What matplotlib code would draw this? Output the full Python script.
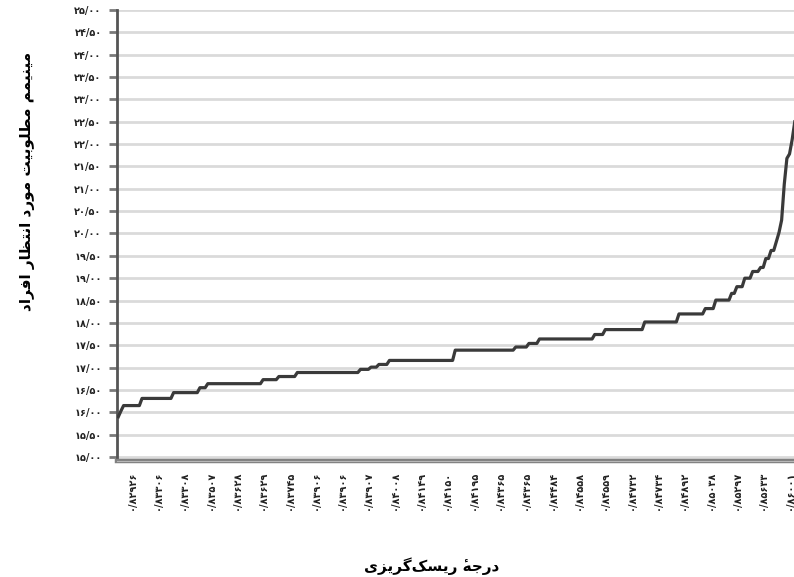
import numpy as np
import matplotlib
matplotlib.use('Agg')
import matplotlib.pyplot as plt

levels = [15.90, 16.03, 16.15, 16.31, 16.44, 16.55, 16.64, 16.73, 16.80, 16.89,
          16.96, 17.01, 17.07, 17.16, 17.39, 17.46, 17.54, 17.64, 17.74, 17.85,
          18.02, 18.20, 18.32, 18.51, 18.66, 18.81, 19.00, 19.15, 19.24, 19.44,
          19.62, 19.82, 20.02, 20.30, 21.10, 21.68, 21.78, 22.10, 22.50]
counts = [1, 1, 7, 12, 10, 3, 21, 6, 7, 24,
          4, 3, 4, 25, 23, 5, 4, 21, 4, 15,
          13, 10, 4, 6, 2, 3, 3, 3, 2, 2,
          2, 1, 1, 1, 1, 1, 1, 1, 1]

# category labels shown on the x axis (every 10th observation, starting at 5)
x_labels = ['۰/۸۲۹۲۶', '۰/۸۳۳۰۶', '۰/۸۳۳۰۸', '۰/۸۳۵۰۷', '۰/۸۳۶۲۸', '۰/۸۳۶۲۹',
            '۰/۸۳۷۴۵', '۰/۸۳۹۰۶', '۰/۸۳۹۰۶', '۰/۸۳۹۰۷', '۰/۸۴۰۰۸', '۰/۸۴۱۴۹',
            '۰/۸۴۱۵۰', '۰/۸۴۱۹۵', '۰/۸۴۳۶۵', '۰/۸۴۳۶۵', '۰/۸۴۴۸۴', '۰/۸۴۵۵۸',
            '۰/۸۴۵۵۹', '۰/۸۴۷۳۲', '۰/۸۴۷۳۴', '۰/۸۴۸۹۲', '۰/۸۵۰۳۸', '۰/۸۵۲۹۷',
            '۰/۸۵۶۳۳', '۰/۸۶۰۰۱']
x_label_pos = list(range(5, 260, 10))
y_ticks = np.arange(15, 25.01, 0.5)

x_title = 'درجهٔ ریسک\u200cگریزی'
y_title = 'مینیمم مطلوبیت مورد انتظار افراد'

# matplotlib does no arabic shaping, so pick the contextual forms by hand
FORMS = {
    'ا': ('\uFE8D', '\uFE8E', None, None),
    'ب': ('\uFE8F', '\uFE90', '\uFE91', '\uFE92'),
    'ت': ('\uFE95', '\uFE96', '\uFE97', '\uFE98'),
    'ج': ('\uFE9D', '\uFE9E', '\uFE9F', '\uFEA0'),
    'د': ('\uFEA9', '\uFEAA', None, None),
    'ر': ('\uFEAD', '\uFEAE', None, None),
    'ز': ('\uFEAF', '\uFEB0', None, None),
    'س': ('\uFEB1', '\uFEB2', '\uFEB3', '\uFEB4'),
    'ط': ('\uFEC1', '\uFEC2', '\uFEC3', '\uFEC4'),
    'ظ': ('\uFEC5', '\uFEC6', '\uFEC7', '\uFEC8'),
    'ف': ('\uFED1', '\uFED2', '\uFED3', '\uFED4'),
    'ل': ('\uFEDD', '\uFEDE', '\uFEDF', '\uFEE0'),
    'م': ('\uFEE1', '\uFEE2', '\uFEE3', '\uFEE4'),
    'ن': ('\uFEE5', '\uFEE6', '\uFEE7', '\uFEE8'),
    'ه': ('\uFEE9', '\uFEEA', '\uFEEB', '\uFEEC'),
    'و': ('\uFEED', '\uFEEE', None, None),
    'ی': ('\uFBFC', '\uFBFD', '\uFBFE', '\uFBFF'),
    'ک': ('\uFB8E', '\uFB8F', '\uFB90', '\uFB91'),
    'گ': ('\uFB92', '\uFB93', '\uFB94', '\uFB95'),
}
MARKS = {'\u0654'}


def shape(text):
    chars = list(text)
    n = len(chars)
    clusters = []
    for i, c in enumerate(chars):
        if c in MARKS:
            # mark glyph sits to the right of the pen, so draw it before its base
            if clusters:
                clusters[-1] = c + clusters[-1]
            continue
        if c == '\u200c':
            continue
        if c not in FORMS:
            clusters.append(c)
            continue
        j = i - 1
        while j >= 0 and chars[j] in MARKS:
            j -= 1
        k = i + 1
        while k < n and chars[k] in MARKS:
            k += 1
        prev_joins = j >= 0 and chars[j] in FORMS and FORMS[chars[j]][2] is not None
        next_joins = k < n and chars[k] in FORMS and FORMS[c][2] is not None
        iso, fin, ini, med = FORMS[c]
        if prev_joins and next_joins:
            g = med
        elif prev_joins:
            g = fin
        elif next_joins:
            g = ini
        else:
            g = iso
        clusters.append(g)
    return ''.join(reversed(clusters))


fa_digits = str.maketrans('0123456789.', '۰۱۲۳۴۵۶۷۸۹/')
y_labels = [f'{v:.2f}'.translate(fa_digits) for v in y_ticks]

values = np.repeat(levels, counts)
idx = np.arange(len(values))

plt.rcParams['font.family'] = ['DejaVu Sans']
fig = plt.figure(figsize=(7.94, 5.77), dpi=100)
# plot area runs past the right edge of the picture, like the original crop
ax = fig.add_axes([117 / 794, 116 / 577, 687 / 794, 451 / 577])

ax.plot(idx, values, color='#3a3a3a', linewidth=2.3, zorder=3)

ax.set_xlim(-0.5, 260.5)
ax.set_ylim(14.91, 25)
ax.set_yticks(y_ticks)
ax.set_yticklabels(y_labels, fontsize=7, fontweight='bold', color='#222222')
ax.set_xticks(x_label_pos)
ax.set_xticklabels(x_labels, rotation=90, fontsize=7, fontweight='bold', color='#222222')

ax.yaxis.grid(True, color='#dadada', linewidth=2)
ax.set_axisbelow(True)
ax.tick_params(axis='y', length=6, width=2, color='#7a7a7a', pad=5)
ax.tick_params(axis='x', length=0, pad=7)

for side in ['top', 'right']:
    ax.spines[side].set_visible(False)
ax.spines['left'].set_color('#555555')
ax.spines['left'].set_linewidth(2)
ax.spines['bottom'].set_color('#808080')
ax.spines['bottom'].set_linewidth(3.2)
# light seam through the middle of the thick base line
ax.axhline(14.91, color='#b8b8b8', linewidth=0.8, zorder=4, clip_on=False)

fig.text(28 / 794, 1 - 181 / 577, shape(y_title), rotation=90, ha='center', va='center',
         fontsize=11, fontweight='bold')
fig.text(432 / 794, 1 - 566 / 577, shape(x_title), ha='center', va='center',
         fontsize=11, fontweight='bold')

fig.savefig('out.png', dpi=100)
